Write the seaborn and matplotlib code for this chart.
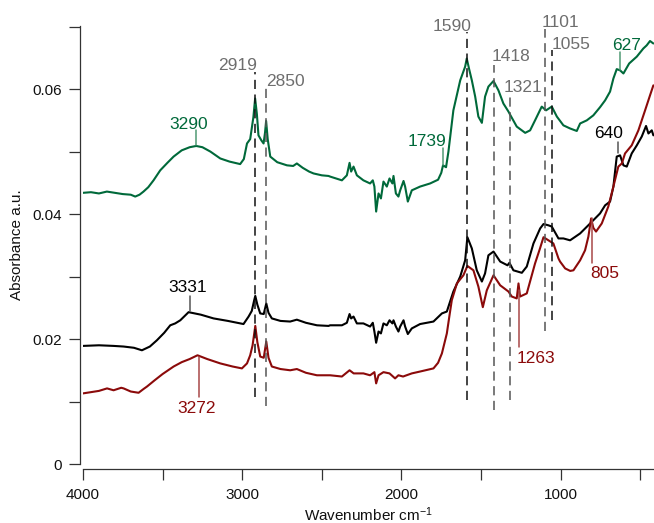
import numpy as np
import pandas as pd
import matplotlib
matplotlib.use("Agg")
import matplotlib.pyplot as plt
from matplotlib.ticker import MultipleLocator, FuncFormatter
import seaborn as sns

# ---- spectra (wavenumber in cm-1, absorbance) ----
green_wn = [4000, 3950, 3900, 3850, 3800, 3750, 3700, 3672, 3645, 3620, 3590, 3557, 3515, 3470,
            3431, 3380, 3330, 3289, 3250, 3200, 3138, 3080, 3013, 2990, 2970, 2950, 2930, 2919,
            2908, 2898, 2880, 2866, 2857, 2850, 2840, 2824, 2780, 2719, 2680, 2657, 2620, 2580,
            2552, 2500, 2458, 2448, 2374, 2343, 2326, 2316, 2301, 2280, 2239, 2197, 2180, 2170,
            2159, 2144, 2129, 2113, 2092, 2075, 2057, 2050, 2035, 2019, 2008, 1987, 1977, 1960,
            1935, 1883, 1820, 1770, 1750, 1739, 1720, 1705, 1674, 1631, 1600, 1590, 1575, 1558,
            1537, 1517, 1495, 1475, 1454, 1422, 1391, 1360, 1328, 1311, 1276, 1223, 1192, 1161,
            1119, 1092, 1056, 1024, 983, 941, 899, 878, 836, 795, 753, 721, 690, 669, 648, 627,
            606, 570, 522, 481, 460, 439, 418]
green_abs = [0.0434, 0.0435, 0.0433, 0.0436, 0.0434, 0.0432, 0.0431, 0.0428, 0.0431, 0.0436,
             0.0443, 0.0454, 0.0470, 0.0482, 0.0492, 0.0502, 0.0507, 0.0509, 0.0507, 0.0500,
             0.0489, 0.0484, 0.0480, 0.0488, 0.0513, 0.0520, 0.0555, 0.0585, 0.0560, 0.0526,
             0.0518, 0.0513, 0.0530, 0.0549, 0.0520, 0.0492, 0.0483, 0.0478, 0.0477, 0.0481,
             0.0474, 0.0468, 0.0465, 0.0462, 0.0461, 0.0460, 0.0454, 0.0462, 0.0482, 0.0468,
             0.0476, 0.0462, 0.0454, 0.0449, 0.0454, 0.0444, 0.0404, 0.0433, 0.0425, 0.0452,
             0.0444, 0.0457, 0.0449, 0.0461, 0.0433, 0.0428, 0.0438, 0.0453, 0.0444, 0.0420,
             0.0438, 0.0444, 0.0449, 0.0455, 0.0466, 0.0478, 0.0475, 0.0500, 0.0566, 0.0614,
             0.0636, 0.0649, 0.0632, 0.0614, 0.0588, 0.0556, 0.0546, 0.0588, 0.0604, 0.0613,
             0.0598, 0.0577, 0.0564, 0.0556, 0.0540, 0.0530, 0.0534, 0.0550, 0.0572, 0.0566,
             0.0572, 0.0556, 0.0542, 0.0537, 0.0533, 0.0545, 0.0550, 0.0558, 0.0571, 0.0582,
             0.0596, 0.0617, 0.0632, 0.0630, 0.0625, 0.0641, 0.0652, 0.0665, 0.0670, 0.0677,
             0.0673]

black_wn = [4000, 3900, 3808, 3745, 3680, 3630, 3580, 3536, 3490, 3452, 3421, 3389, 3337, 3260,
            3180, 3090, 2992, 2960, 2940, 2925, 2918, 2905, 2887, 2865, 2849, 2835, 2814, 2760,
            2699, 2657, 2600, 2531, 2458, 2448, 2374, 2343, 2326, 2316, 2301, 2280, 2239, 2197,
            2180, 2170, 2159, 2144, 2129, 2113, 2092, 2075, 2057, 2050, 2035, 2019, 2008, 1987,
            1977, 1960, 1935, 1883, 1799, 1746, 1715, 1674, 1631, 1600, 1586, 1558, 1527, 1495,
            1475, 1454, 1422, 1380, 1334, 1322, 1297, 1244, 1213, 1171, 1129, 1108, 1077, 1056,
            1014, 983, 941, 878, 815, 753, 721, 690, 669, 648, 627, 606, 585, 554, 522, 491,
            464, 449, 428, 418]
black_abs = [0.0189, 0.0190, 0.0189, 0.0188, 0.0186, 0.0182, 0.0188, 0.0198, 0.0210, 0.0222,
             0.0225, 0.0230, 0.0243, 0.0239, 0.0233, 0.0229, 0.0224, 0.0236, 0.0245, 0.0262,
             0.0269, 0.0255, 0.0241, 0.0240, 0.0257, 0.0242, 0.0233, 0.0229, 0.0228, 0.0231,
             0.0226, 0.0222, 0.0221, 0.0222, 0.0222, 0.0226, 0.0240, 0.0233, 0.0236, 0.0225,
             0.0225, 0.0220, 0.0226, 0.0212, 0.0194, 0.0212, 0.0209, 0.0225, 0.0222, 0.0230,
             0.0225, 0.0230, 0.0220, 0.0212, 0.0220, 0.0230, 0.0220, 0.0208, 0.0217, 0.0224,
             0.0228, 0.0241, 0.0244, 0.0276, 0.0300, 0.0326, 0.0363, 0.0345, 0.0310, 0.0292,
             0.0305, 0.0334, 0.0340, 0.0324, 0.0318, 0.0322, 0.0310, 0.0306, 0.0316, 0.0353,
             0.0377, 0.0384, 0.0382, 0.0380, 0.0361, 0.0361, 0.0358, 0.0369, 0.0385, 0.0401,
             0.0414, 0.0420, 0.0444, 0.0492, 0.0494, 0.0478, 0.0476, 0.0497, 0.0510, 0.0524,
             0.0541, 0.0529, 0.0534, 0.0526]

red_wn = [4000, 3950, 3900, 3849, 3808, 3760, 3745, 3700, 3651, 3620, 3598, 3550, 3500, 3431,
          3380, 3330, 3281, 3220, 3138, 3060, 3002, 2970, 2950, 2935, 2918, 2905, 2887, 2865,
          2849, 2835, 2814, 2760, 2699, 2657, 2600, 2531, 2458, 2448, 2374, 2326, 2300, 2239,
          2197, 2170, 2159, 2144, 2113, 2075, 2040, 2019, 1990, 1935, 1883, 1799, 1770, 1746,
          1715, 1700, 1684, 1652, 1611, 1586, 1548, 1517, 1489, 1464, 1422, 1380, 1328, 1307,
          1276, 1265, 1255, 1213, 1161, 1130, 1108, 1077, 1046, 1014, 1004, 972, 940, 920, 878,
          847, 826, 809, 795, 778, 742, 701, 669, 638, 616, 596, 554, 512, 470, 439, 418]
red_abs = [0.0113, 0.0115, 0.0117, 0.0121, 0.0118, 0.0122, 0.0121, 0.0116, 0.0114, 0.0120,
           0.0124, 0.0134, 0.0144, 0.0156, 0.0163, 0.0168, 0.0174, 0.0168, 0.0161, 0.0156,
           0.0153, 0.0161, 0.0174, 0.0190, 0.0221, 0.0195, 0.0172, 0.0170, 0.0196, 0.0170,
           0.0156, 0.0152, 0.0150, 0.0152, 0.0146, 0.0142, 0.0142, 0.0142, 0.0140, 0.0150,
           0.0145, 0.0145, 0.0142, 0.0147, 0.0129, 0.0142, 0.0147, 0.0145, 0.0137, 0.0142,
           0.0140, 0.0145, 0.0148, 0.0153, 0.0162, 0.0177, 0.0209, 0.0235, 0.0262, 0.0289,
           0.0302, 0.0317, 0.0310, 0.0284, 0.0251, 0.0278, 0.0302, 0.0286, 0.0276, 0.0268,
           0.0265, 0.0289, 0.0268, 0.0273, 0.0321, 0.0345, 0.0363, 0.0358, 0.0353, 0.0329,
           0.0324, 0.0313, 0.0309, 0.0310, 0.0326, 0.0342, 0.0364, 0.0393, 0.0378, 0.0372,
           0.0385, 0.0412, 0.0444, 0.0476, 0.0481, 0.0497, 0.0510, 0.0534, 0.0566, 0.0590,
           0.0606]

# ---- band assignments ----
shared_bands = [2919, 2850, 1590, 1418, 1321, 1101, 1055]
green_bands = [3290, 1739, 627]
black_bands = [3331, 640]
red_bands = [3272, 1263, 805]

GREEN = "#00693a"
BLACK = "#000000"
RED = "#8b0a0a"
GREY_TXT = "#6e6e6e"

sns.set_theme(style="ticks")
plt.rcParams["font.family"] = ["Liberation Sans", "DejaVu Sans"]
plt.rcParams["mathtext.default"] = "regular"

fig = plt.figure(figsize=(6.54, 5.23), dpi=100)
W, H = 654, 523
ax = fig.add_axes([83 / W, 59 / H, (654 - 83) / W, (464 - 26) / H])

frames = []
for name, wn, ab in [("green", green_wn, green_abs), ("black", black_wn, black_abs),
                     ("red", red_wn, red_abs)]:
    frames.append(pd.DataFrame({"wavenumber": wn, "absorbance": ab, "sample": name}))
df = pd.concat(frames, ignore_index=True)

sns.lineplot(data=df, x="wavenumber", y="absorbance", hue="sample",
             palette={"green": GREEN, "black": BLACK, "red": RED},
             sort=False, estimator=None, lw=1.5, legend=False, ax=ax)

ax.set_xlim(4000, 414)
ax.set_ylim(0, 0.0701)

# dashed guides for bands common to all samples: (top, bottom, colour)
guide_style = {
    2919: (0.0627, 0.0107, "#111111"),
    2850: (0.0603, 0.0093, "#555555"),
    1590: (0.0691, 0.0102, "#111111"),
    1418: (0.0638, 0.0086, "#555555"),
    1321: (0.0590, 0.0102, "#555555"),
    1101: (0.0696, 0.0213, "#555555"),
    1055: (0.0662, 0.0230, "#111111"),
}
# label placement: (x centre, baseline)
guide_text = {
    2919: (3028, 0.0630),
    2850: (2730, 0.0605),
    1590: (1685, 0.0693),
    1418: (1314, 0.0645),
    1321: (1239, 0.0596),
    1101: (1004, 0.0699),
    1055: (936, 0.0664),
}
for b in shared_bands:
    top, bot, c = guide_style[b]
    ax.plot([b, b], [bot, top], color=c, lw=1.1, dashes=(6, 3.6))
    tx, ty = guide_text[b]
    ax.text(tx, ty, str(b), color=GREY_TXT, fontsize=12.5, ha="center", va="baseline")

# sample-specific bands: (line start, line end, text x centre, text baseline)
tag_layout = {
    3290: (0.0510, 0.0534, 3339, 0.0536),
    1739: (0.0478, 0.0506, 1839, 0.0509),
    627: (0.0630, 0.0660, 585, 0.0662),
    3331: (0.0245, 0.0269, 3345, 0.0275),
    640: (0.0497, 0.0516, 702, 0.0521),
    3272: (0.0171, 0.0107, 3289, 0.0081),
    1263: (0.0278, 0.0187, 1156, 0.0161),
    805: (0.0394, 0.0322, 726, 0.0297),
}
for bands, col, tick_col in [(green_bands, GREEN, "#4f9a74"),
                             (black_bands, BLACK, "#555555"),
                             (red_bands, RED, "#a84848")]:
    for b in bands:
        y0, y1, tx, ty = tag_layout[b]
        ax.plot([b, b], [y0, y1], color=tick_col, lw=1.1)
        ax.text(tx, ty, str(b), color=col, fontsize=12.5, ha="center", va="baseline")

# axes styling
sns.despine(ax=ax)
ax.spines["left"].set_position(("outward", 2.2))
ax.spines["bottom"].set_position(("outward", 3.6))
for s in ("left", "bottom"):
    ax.spines[s].set_color("#333333")
    ax.spines[s].set_linewidth(0.9)

ax.xaxis.set_major_locator(MultipleLocator(500))
ax.yaxis.set_major_locator(MultipleLocator(0.01))
ax.xaxis.set_major_formatter(FuncFormatter(
    lambda v, p: f"{int(round(v))}" if int(round(v)) % 1000 == 0 else ""))
ax.yaxis.set_major_formatter(FuncFormatter(
    lambda v, p: ("0" if abs(v) < 1e-9 else f"{v:.2f}") if int(round(v * 100)) % 2 == 0 else ""))
ax.tick_params(axis="both", direction="out", length=8, width=0.9, color="#333333",
               labelsize=11, labelcolor="#111111")
ax.tick_params(axis="x", pad=6)
ax.tick_params(axis="y", pad=5)

ax.set_xlabel("Wavenumber cm$^{-1}$", fontsize=11, color="#111111", labelpad=2)
ax.set_ylabel("Absorbance a.u.", fontsize=11, color="#111111", labelpad=6)

fig.savefig("out.png", dpi=100)
